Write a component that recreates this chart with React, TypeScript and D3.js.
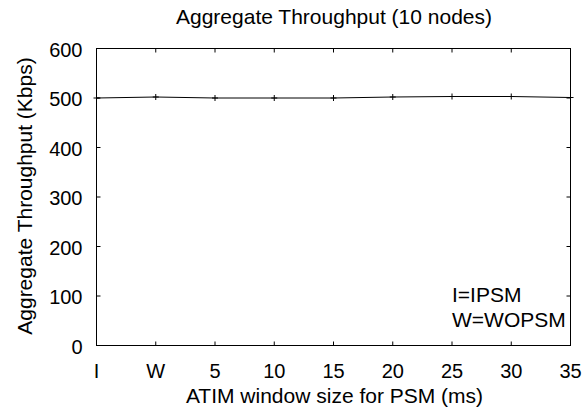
import React from "react";
import * as d3 from "d3";

const categories = ["I", "W", "5", "10", "15", "20", "25", "30", "35"];
const throughput = [500, 502, 500, 500, 500, 502, 503, 503, 501];
const yTicks = [0, 100, 200, 300, 400, 500, 600];
const legendLines = ["I=IPSM", "W=WOPSM"];

const W = 585, H = 412;
const m = { left: 96.5, right: 570.5, top: 48.5, bottom: 345.5 };

export default function App() {
  const x = d3.scalePoint<string>().domain(categories).range([m.left, m.right]);
  const y = d3.scaleLinear().domain([0, 600]).range([m.bottom, m.top]);
  const line = d3
    .line<number>()
    .x((_, i) => x(categories[i]) as number)
    .y((d) => y(d));
  const font = "'Liberation Sans', Arial, sans-serif";
  const fs = 20;
  const lfs = 21;
  const tl = 4;
  return (
    <svg width={W} height={H} style={{ position: "absolute", left: 0, top: 0 }} fontFamily={font}>
      <rect width={W} height={H} fill="#fff" />
      <text x={334} y={24} textAnchor="middle" fontSize={lfs}>
        Aggregate Throughput (10 nodes)
      </text>
      {yTicks.map((t) => (
        <g key={t}>
          <line x1={m.left} x2={m.left + tl} y1={y(t)} y2={y(t)} stroke="#000" />
          <line x1={m.right} x2={m.right - tl} y1={y(t)} y2={y(t)} stroke="#000" />
          <text x={m.left - 14} y={y(t) + 8} textAnchor="end" fontSize={fs}>
            {t}
          </text>
        </g>
      ))}
      {categories.map((c) => (
        <g key={c}>
          <line x1={x(c)} x2={x(c)} y1={m.bottom} y2={m.bottom - tl} stroke="#000" />
          <line x1={x(c)} x2={x(c)} y1={m.top} y2={m.top + tl} stroke="#000" />
          <text x={x(c)} y={m.bottom + 32.5} textAnchor="middle" fontSize={fs}>
            {c}
          </text>
        </g>
      ))}
      <rect x={m.left} y={m.top} width={m.right - m.left} height={m.bottom - m.top} fill="none" stroke="#000" />
      <path d={line(throughput) || ""} fill="none" stroke="#000" strokeWidth={1} />
      {throughput.map((v, i) => (
        <g key={i} stroke="#000">
          <line x1={(x(categories[i]) as number) - 3} x2={(x(categories[i]) as number) + 3} y1={y(v)} y2={y(v)} />
          <line x1={x(categories[i])} x2={x(categories[i])} y1={y(v) - 3} y2={y(v) + 3} />
        </g>
      ))}
      {legendLines.map((l, i) => (
        <text key={l} x={452} y={302 + i * 25} textAnchor="start" fontSize={lfs}>
          {l}
        </text>
      ))}
      <text x={334.5} y={403} textAnchor="middle" fontSize={lfs}>
        ATIM window size for PSM (ms)
      </text>
      <text
        transform={`translate(32, ${(m.top + m.bottom) / 2 - 1}) rotate(-90)`}
        textAnchor="middle"
        fontSize={lfs}
      >
        Aggregate Throughput (Kbps)
      </text>
    </svg>
  );
}
